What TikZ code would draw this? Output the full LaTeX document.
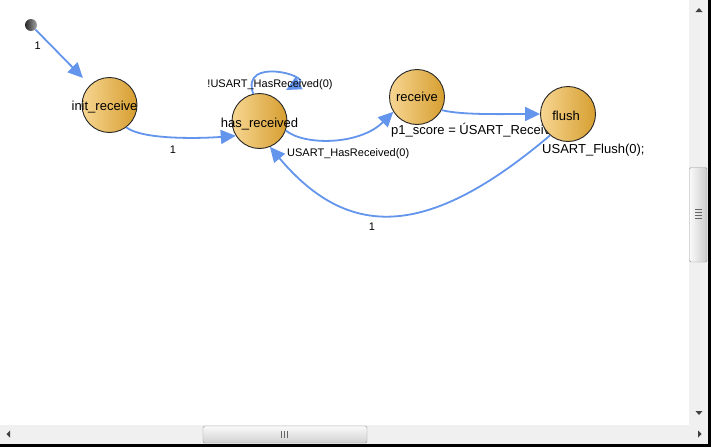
\documentclass[tikz,border=0pt]{standalone}
\usepackage{fontspec}
\setmainfont{Liberation Sans}
\usetikzlibrary{arrows.meta}
\definecolor{edgeblue}{RGB}{100,149,237}
\definecolor{stlight}{RGB}{247,214,146}
\definecolor{stdark}{RGB}{214,158,48}
\definecolor{barbg}{RGB}{240,240,240}
\definecolor{thumbedge}{RGB}{150,150,150}

\begin{document}
\begin{tikzpicture}[x=1pt,y=-1pt,
  state/.style={circle,draw=black!85,line width=0.9pt,left color=stlight,right color=stdark,minimum size=55pt,inner sep=0pt},
  initdot/.style={circle,left color=black!85,right color=black!35,minimum size=12pt,inner sep=0pt},
  sname/.style={font=\fontsize{13}{15}\selectfont,inner sep=0pt},
  act/.style={font=\fontsize{13}{15}\selectfont,anchor=west,inner sep=0pt},
  tlab/.style={font=\fontsize{11}{13}\selectfont,text=black,inner sep=0pt},
  tr/.style={-{Triangle[length=15pt,width=14pt]},edgeblue,line width=1.8pt},
  arrowglyph/.style={fill=black!75},
  grip/.style={black!60,line width=0.8pt}]
 \useasboundingbox (0,0) rectangle (711,447);
 \fill[white] (0,0) rectangle (711,447);
 % ---- states ----
 \node[initdot] (start) at (31,25) {};
 \node[state,label={[sname,xshift=-5pt,yshift=-2pt]center:init\_receive}] (init) at (109.5,105) {};
 \node[state,label={[sname,yshift=-3pt]center:has\_received}] (has) at (259.5,121) {};
 \node[state,label={[sname]center:receive}] (recv) at (417,97) {};
 \node[act] (recvact) at (391,130) {p1\_score = ÚSART\_Receive(0);};
 \node[state,label={[sname,xshift=-2pt,yshift=-2pt]center:flush}] (flush) at (568,114) {};
 \node[act] (flushact) at (542,150) {USART\_Flush(0);};
 % ---- transitions ----
 \coordinate (hasloop) at (286,90);
 \draw[tr,shorten >=10pt] (start) -- (init) node[tlab,pos=0.3,left=10pt] (l1) {1};
 \draw[tr] (init.-53) .. controls +(15,12) and +(-40,3) .. (has.212);
 \node[tlab] (l2) at (173,150) {1};
 \draw[tr] (has.103) .. controls (240,56) and (312,76) .. (hasloop);
 \node[tlab] (l3) at (270,85) {!USART\_HasReceived(0)};
 \draw[tr] (has.-20) .. controls (305,146) and (360,145) .. (recv.212);
 \node[tlab,anchor=west] (l4) at (287,154) {USART\_HasReceived(0)};
 \draw[tr] (recv.-28) .. controls +(20,5) and +(-40,0) .. (flush.west);
 \draw[tr] (flush.-130) .. controls (430,237) and (350,242) .. (has.-68);
 \node[tlab] (l5) at (372,227) {1};
 % ---- scrollbars ----
 \fill[barbg] (689,0) rectangle (708,425);
 \fill[barbg] (0,425) rectangle (708,444);
 \fill[black] (708,0) rectangle (711,447);
 \fill[black] (0,444) rectangle (711,447);
 \draw[thumbedge,rounded corners=1.5pt,left color=black!2,right color=black!20] (689.5,167.5) rectangle (707,262);
 \draw[thumbedge,rounded corners=1.5pt,top color=black!2,bottom color=black!18] (203,426) rectangle (367,443);
 \foreach \gy in {209.5,212.5,215.5,218.5}
   \draw[grip] (695,\gy) -- (702,\gy);
 \foreach \gx in {281.5,284.5,287.5}
   \draw[grip] (\gx,431) -- (\gx,438);
 \fill[arrowglyph] (695.5,12) -- (702.5,12) -- (699,8) -- cycle;
 \fill[arrowglyph] (695.5,411) -- (702.5,411) -- (699,415) -- cycle;
 \fill[arrowglyph] (10,430.5) -- (10,437.5) -- (6.5,434) -- cycle;
 \fill[arrowglyph] (698,430.5) -- (698,437.5) -- (701.5,434) -- cycle;
\end{tikzpicture}
\end{document}
